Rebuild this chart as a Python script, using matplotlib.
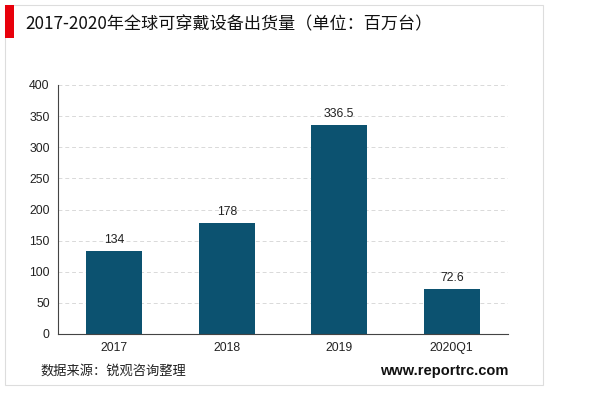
import matplotlib.pyplot as plt
from matplotlib.patches import Rectangle

plt.rcParams['font.family'] = ['Noto Sans CJK SC', 'DejaVu Sans']

categories = ['2017', '2018', '2019', '2020Q1']
values = [134, 178, 336.5, 72.6]
labels = ['134', '178', '336.5', '72.6']

fig = plt.figure(figsize=(6, 3.99), dpi=100)
W, H = 600, 399

# card frame and red marker
fig.patches.append(Rectangle((5 / W, 1 - 385 / H), 538 / W, 380 / H, transform=fig.transFigure,
                             facecolor='white', edgecolor='#dddddd', lw=0.8, zorder=-2))
fig.patches.append(Rectangle((5 / W, 1 - 38 / H), 9 / W, 33 / H, transform=fig.transFigure,
                             facecolor='#e8000b', edgecolor='none', zorder=-1))
fig.text(25 / W, 1 - 24 / H, '2017-2020年全球可穿戴设备出货量（单位：百万台）',
         fontsize=12.3, va='center', ha='left', color='#111111')

ax = fig.add_axes([58 / W, 1 - 334 / H, 450 / W, 249 / H])
ax.set_zorder(5)
ax.patch.set_alpha(0)
ax.bar(categories, values, width=0.5, color='#0c5270', zorder=2)
for i, (v, t) in enumerate(zip(values, labels)):
    ax.text(i, v + 8, t, ha='center', va='bottom', fontsize=8.8, color='#222222',
            family=['Liberation Sans', 'DejaVu Sans'])

ax.set_ylim(0, 400)
ax.set_xlim(-0.5, 3.5)
ax.set_yticks(range(0, 401, 50))
ax.yaxis.grid(True, linestyle=(0, (4, 3)), color='#d9d9d9', lw=0.7)
ax.set_axisbelow(True)
for s in ['top', 'right']:
    ax.spines[s].set_visible(False)
ax.spines['left'].set_color('#444444')
ax.spines['bottom'].set_color('#444444')
ax.tick_params(axis='both', length=0, labelsize=8.8, colors='#222222', pad=6)
for lbl in ax.get_xticklabels() + ax.get_yticklabels():
    lbl.set_family(['Liberation Sans', 'DejaVu Sans'])

fig.text(40 / W, 1 - 371 / H, '数据来源：锐观咨询整理', fontsize=9.5, va='center', ha='left', color='#222222')
fig.text(508 / W, 1 - 371 / H, 'www.reportrc.com', fontsize=10.5, va='center', ha='right',
         fontweight='bold', color='#111111', family=['Liberation Sans', 'DejaVu Sans'])

fig.savefig('out.png', dpi=100, facecolor='white')
